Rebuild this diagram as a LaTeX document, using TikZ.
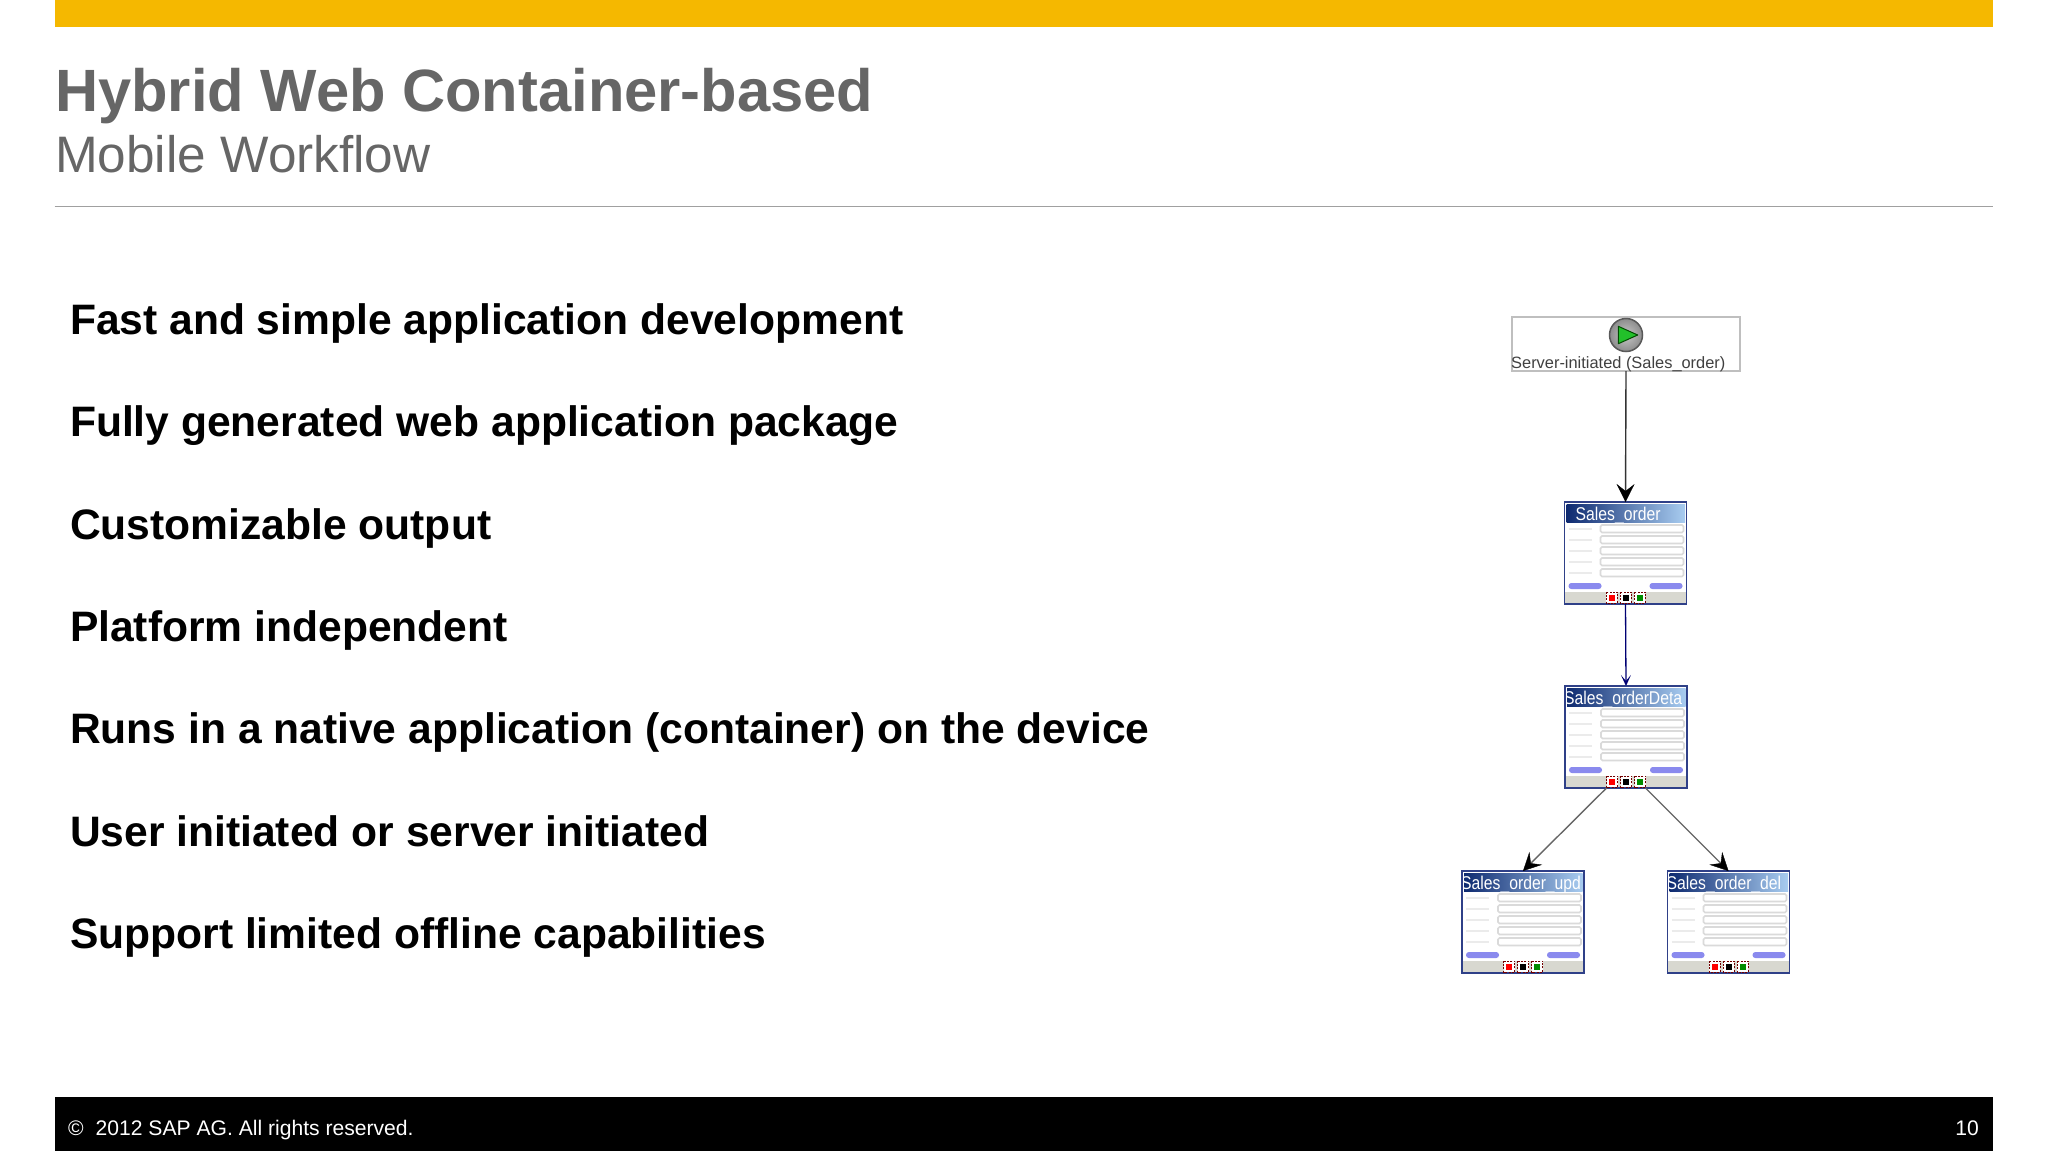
\documentclass[tikz,border=0pt]{standalone}
\usepackage{fontspec}
\usepackage{graphicx}
\setmainfont{Liberation Sans}
\usetikzlibrary{arrows.meta,calc}
\definecolor{sapyellow}{HTML}{F5B800}
\definecolor{sapgray}{HTML}{666666}
\definecolor{rulegray}{HTML}{A0A0A0}
\definecolor{framenavy}{HTML}{2F4088}
\definecolor{barnavy}{HTML}{0E2A70}
\definecolor{barlight}{HTML}{A8CCF0}
\definecolor{fieldgray}{HTML}{DADADA}
\definecolor{btnblue}{HTML}{8A8AEE}
\definecolor{footgray}{HTML}{D8D8D0}
\definecolor{playgreen}{HTML}{22C02A}
\newcommand{\fsz}[1]{\fontsize{#1pt}{#1pt}\selectfont}
\tikzset{
  x=1pt,y=-1pt,
  bullet/.style={anchor=base west,inner sep=0pt,outer sep=0pt,font=\fsz{42.6}\bfseries,text=black},
  screenbox/.style={draw=framenavy,line width=1.4pt,fill=white,minimum width=122pt,minimum height=102pt,inner sep=0pt,outer sep=0pt},
  flow/.style={line width=1.4pt,-{Stealth[length=18pt,width=18pt,inset=7pt,black,line width=.4pt]}},
  field/.style={draw=fieldgray,line width=1.6pt,rounded corners=1.5pt},
  faint/.style={draw=black!8,line width=2.4pt},
  btn/.style={fill=btnblue,rounded corners=2.8pt},
  iconframe/.style={draw=red!45!black,line width=1pt,dash pattern=on 2pt off 1.2pt,fill=white}
}
\newcommand{\screenbox}[5]{%
  % #1 name, #2 centre x, #3 centre y, #4 title, #5 title left offset
  \node[screenbox] (#1) at (#2,#3) {};
  \begin{scope}[shift={(#1.north west)}]
    \shade[left color=barnavy,right color=barlight] (2,2) rectangle (120.5,20);
    \begin{scope}
      \clip (2,2) rectangle (120.5,23);
      \node[anchor=base west,inner sep=0pt,text=white,font=\fsz{18.5}] (#1title) at (#5,18) {\scalebox{.85}[1]{#4}};
    \end{scope}
    \foreach \r in {23,34,45,56,67}{
      \draw[field] (36,\r) rectangle (119,\r+7.5);
      \draw[faint] (4,\r+4) -- (27,\r+4);
    }
    \fill[btn] (4,81) rectangle (37,87);
    \fill[btn] (85,81) rectangle (118,87);
    \fill[footgray] (.7,90) rectangle (121.3,101.3);
    \foreach \c/\k in {47/red,61/black,75/green!55!black}{
      \draw[iconframe] (\c-5.5,90) rectangle (\c+5.5,101);
      \fill[\k] (\c-3,92.5) rectangle (\c+3,98.5);
    }
  \end{scope}
}
\begin{document}
\begin{tikzpicture}
\useasboundingbox (0,0) rectangle (2048,1152);
\fill[white] (0,0) rectangle (2048,1152);
% frame of the slide
\fill[sapyellow] (54.5,0) rectangle (1993,27);
\node[anchor=base west,inner sep=0pt,text=sapgray,font=\fsz{59.7}\bfseries] (title) at (55,111) {Hybrid Web Container-based};
\node[anchor=base west,inner sep=0pt,text=sapgray,font=\fsz{51.3}] (subtitle) at (55,172.5) {Mobile Workflow};
\draw[rulegray,line width=1.6pt] (54.5,206.5) -- (1993,206.5);
% bullets
\node[bullet] (b1) at (70,334.3) {Fast and simple application development};
\node[bullet] (b2) at (70,436.7) {Fully generated web application package};
\node[bullet] (b3) at (70,539.1) {Customizable output};
\node[bullet] (b4) at (70,641.5) {Platform independent};
\node[bullet] (b5) at (70,743.9) {Runs in a native application (container) on the device};
\node[bullet] (b6) at (70,846.3) {User initiated or server initiated};
\node[bullet] (b7) at (70,948.7) {Support limited offline capabilities};
% footer
\fill[black] (54.5,1097) rectangle (1993,1151);
\node[anchor=base west,inner sep=0pt,text=white,font=\fsz{21.1}] (copy) at (68,1135.5) {©};
\node[anchor=base west,inner sep=0pt,text=white,font=\fsz{21.1}] (rights) at (95.5,1135.5) {2012 SAP AG. All rights reserved.};
\node[anchor=base east,inner sep=0pt,text=white,font=\fsz{21.1}] (page) at (1979,1135.5) {10};
% workflow: start
\node[draw=black!25,line width=1.3pt,minimum width=228pt,minimum height=54pt,inner sep=0pt,outer sep=0pt] (start) at (1626,344) {};
\node[draw=black!65,line width=1.5pt,circle,minimum size=33pt,inner sep=0pt,outer sep=0pt,shade,inner color=black!22,outer color=black!45] (play) at (1626,335) {};
\draw[black!70!green,line width=1pt,fill=playgreen,line join=round] ($(play.center)+(-7.7,-8.7)$) -- ($(play.center)+(-7.7,8.7)$) -- ($(play.center)+(11.7,0)$) -- cycle;
\node[anchor=base west,inner sep=0pt,text=black!75,font=\fsz{16.4}] (startlabel) at (1511,368) {Server-initiated (Sales\_order)};
% workflow: screens
\screenbox{so}{1625.5}{553}{Sales\_order}{11}
\screenbox{det}{1626}{737}{Sales\_orderDeta}{-1}
\screenbox{upd}{1523}{922}{Sales\_order\_upd}{-1}
\screenbox{del}{1728.5}{922}{Sales\_order\_del}{-1}
% connectors
\draw[flow,draw=black!80] (start.south) -- (so.north);
\draw[line width=1.3pt,draw=blue!45!black,-{Stealth[length=11pt,width=10pt,inset=6pt]}] (so.south) -- (det.north);
\draw[flow,draw=black!60] ([xshift=-19.5pt]det.south) -- (upd.north);
\draw[flow,draw=black!60] ([xshift=19.5pt]det.south) -- (del.north);
\end{tikzpicture}
\end{document}
